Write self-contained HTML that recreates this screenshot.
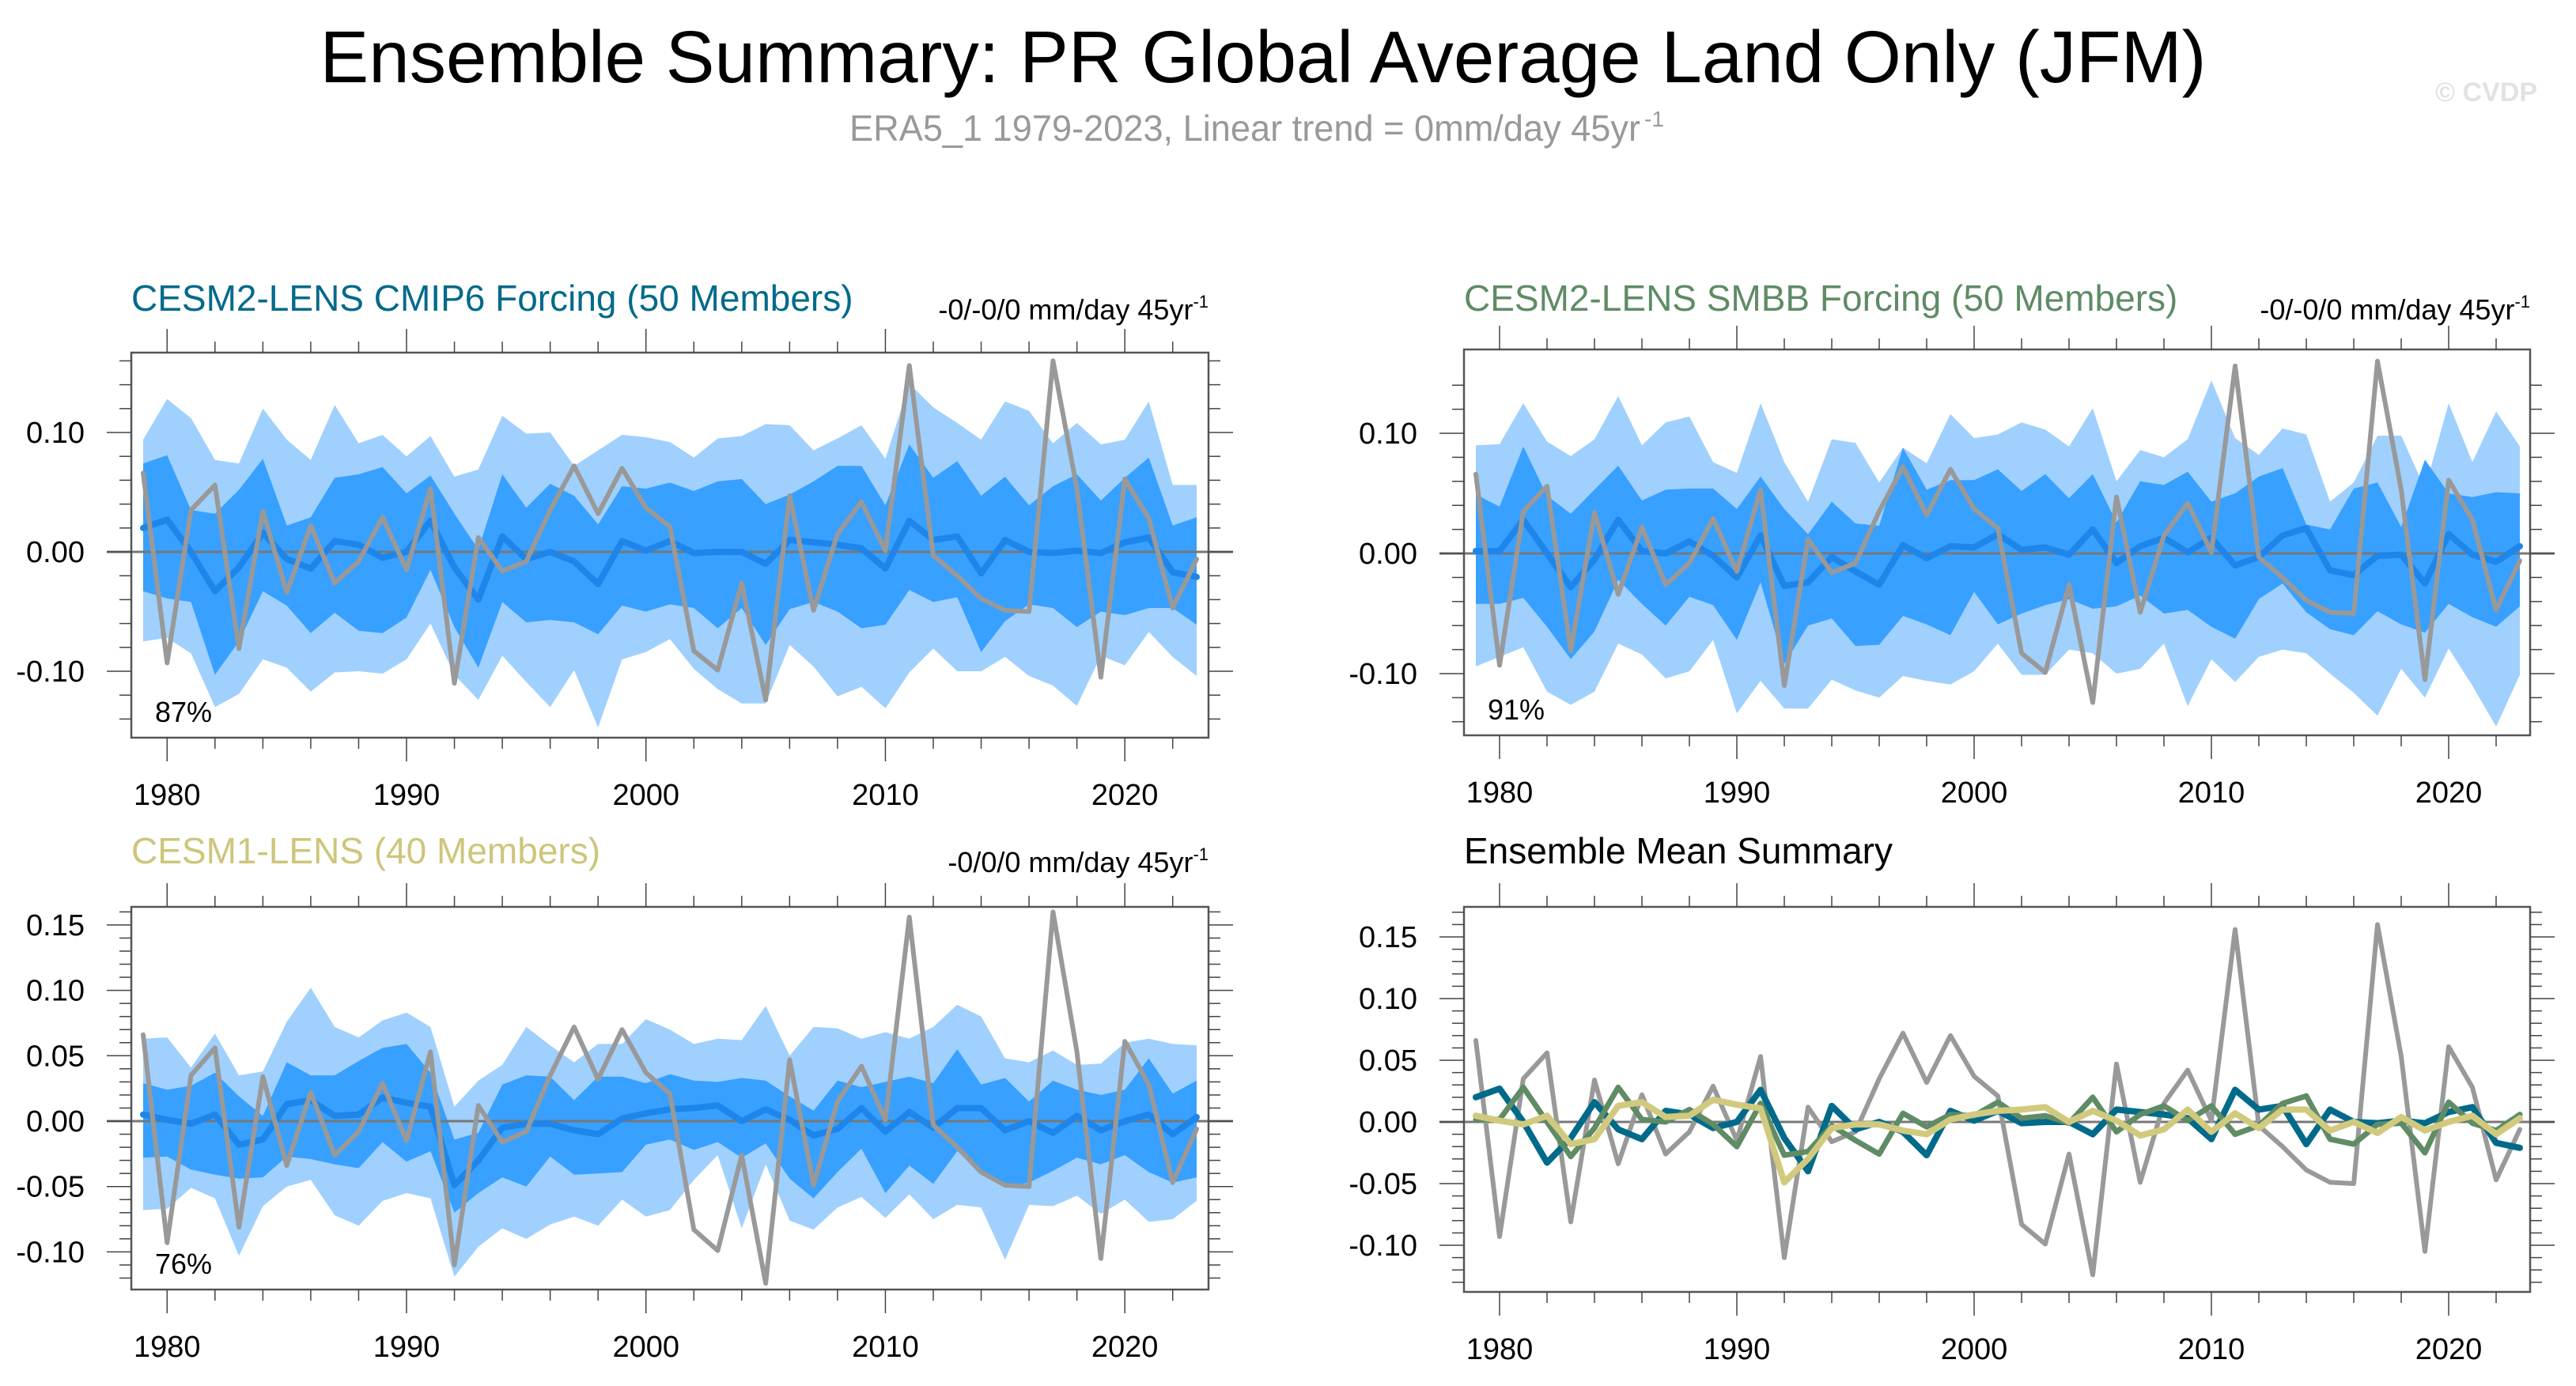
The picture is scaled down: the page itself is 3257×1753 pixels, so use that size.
<!DOCTYPE html>
<html><head><meta charset="utf-8"><style>
html,body{margin:0;padding:0;background:#fff;}
svg{display:block;font-family:"Liberation Sans",Arial,sans-serif;}
</style></head><body>
<svg id="chart" xmlns="http://www.w3.org/2000/svg" width="3257" height="1753" viewBox="0 0 3257 1753">
<rect x="0" y="0" width="3257" height="1753" fill="#fff"/>
<text x="1597" y="104" font-size="93" text-anchor="middle" fill="#000" textLength="2385" lengthAdjust="spacingAndGlyphs">Ensemble Summary: PR Global Average Land Only (JFM)</text>
<text x="1074" y="178" font-size="46" fill="#999" textLength="1000" lengthAdjust="spacingAndGlyphs">ERA5_1 1979-2023, Linear trend = 0mm/day 45yr</text>
<text x="2079" y="160" font-size="28" fill="#999">-1</text>
<text x="3208" y="128" font-size="34" font-weight="bold" text-anchor="end" fill="#e2e2e2">© CVDP</text>
<g id="panels"></g>
</svg>
<script>
const years = [];
for (let y = 1979; y <= 2023; y++) years.push(y);

const obs = [0.066,-0.093,0.035,0.056,-0.081,0.034,-0.034,0.022,-0.026,-0.008,0.029,-0.015,0.053,-0.110,0.012,-0.016,-0.008,0.035,0.072,0.032,0.070,0.037,0.021,-0.083,-0.099,-0.026,-0.124,0.047,-0.049,0.015,0.042,0.001,0.156,-0.003,-0.020,-0.039,-0.049,-0.050,0.160,0.053,-0.105,0.061,0.028,-0.047,-0.006];

const cmip6Mean = [0.020,0.027,0.000,-0.033,-0.013,0.016,-0.006,-0.014,0.009,0.006,-0.005,0.000,0.026,-0.013,-0.040,0.013,-0.006,0.000,-0.008,-0.027,0.009,0.001,0.009,-0.001,0.000,0.000,-0.010,0.010,0.008,0.006,0.003,-0.014,0.026,0.010,0.013,-0.018,0.010,0.000,-0.001,0.001,-0.001,0.008,0.012,-0.017,-0.021];
const cmip6Hi90 = [0.094,0.128,0.112,0.077,0.074,0.120,0.094,0.077,0.123,0.091,0.098,0.080,0.097,0.063,0.069,0.114,0.099,0.100,0.072,0.085,0.098,0.096,0.092,0.079,0.095,0.097,0.107,0.106,0.085,0.095,0.106,0.078,0.141,0.121,0.108,0.094,0.126,0.118,0.091,0.108,0.090,0.094,0.126,0.056,0.056];
const cmip6Hi66 = [0.074,0.081,0.035,0.032,0.052,0.078,0.022,0.029,0.062,0.065,0.071,0.049,0.064,0.032,0.002,0.065,0.037,0.057,0.047,0.023,0.055,0.053,0.058,0.051,0.059,0.061,0.040,0.048,0.059,0.072,0.072,0.039,0.090,0.062,0.076,0.047,0.063,0.039,0.055,0.065,0.043,0.062,0.079,0.022,0.029];
const cmip6Lo66 = [-0.033,-0.039,-0.042,-0.103,-0.075,-0.033,-0.045,-0.068,-0.051,-0.066,-0.068,-0.055,-0.015,-0.063,-0.097,-0.042,-0.059,-0.057,-0.059,-0.069,-0.045,-0.050,-0.044,-0.047,-0.064,-0.047,-0.078,-0.048,-0.042,-0.050,-0.064,-0.061,-0.032,-0.042,-0.038,-0.084,-0.058,-0.044,-0.047,-0.063,-0.050,-0.053,-0.047,-0.047,-0.061];
const cmip6Lo90 = [-0.075,-0.072,-0.085,-0.130,-0.119,-0.090,-0.097,-0.117,-0.101,-0.100,-0.102,-0.090,-0.060,-0.103,-0.124,-0.087,-0.109,-0.130,-0.099,-0.147,-0.090,-0.084,-0.073,-0.098,-0.115,-0.127,-0.127,-0.078,-0.096,-0.121,-0.113,-0.131,-0.101,-0.081,-0.100,-0.100,-0.088,-0.104,-0.112,-0.129,-0.087,-0.095,-0.067,-0.088,-0.104];

const smbbMean = [0.002,0.002,0.028,0.000,-0.028,-0.005,0.028,0.002,0.000,0.010,-0.002,-0.020,0.015,-0.027,-0.024,-0.003,-0.015,-0.026,0.007,-0.004,0.006,0.005,0.016,0.003,0.005,-0.001,0.020,-0.008,0.006,0.013,0.001,0.013,-0.010,-0.003,0.015,0.021,-0.014,-0.018,-0.002,-0.001,-0.025,0.016,-0.001,-0.007,0.006];
const smbbHi90 = [0.090,0.091,0.125,0.093,0.081,0.095,0.131,0.090,0.109,0.114,0.076,0.067,0.125,0.076,0.043,0.095,0.092,0.059,0.088,0.075,0.116,0.096,0.099,0.109,0.103,0.089,0.121,0.060,0.086,0.080,0.095,0.144,0.096,0.082,0.104,0.099,0.043,0.059,0.098,0.098,0.054,0.125,0.076,0.118,0.089];
const smbbHi66 = [0.049,0.039,0.089,0.048,0.033,0.053,0.073,0.044,0.053,0.054,0.054,0.037,0.064,0.037,0.016,0.043,0.025,0.023,0.088,0.053,0.061,0.061,0.070,0.052,0.066,0.046,0.066,0.026,0.060,0.057,0.068,0.043,0.050,0.064,0.071,0.024,0.020,0.054,0.059,0.022,0.078,0.050,0.047,0.051,0.050];
const smbbLo66 = [-0.042,-0.042,-0.037,-0.061,-0.088,-0.065,-0.022,-0.042,-0.060,-0.036,-0.043,-0.072,-0.024,-0.092,-0.060,-0.054,-0.077,-0.076,-0.052,-0.059,-0.068,-0.032,-0.059,-0.050,-0.043,-0.038,-0.046,-0.044,-0.035,-0.050,-0.047,-0.061,-0.071,-0.038,-0.025,-0.049,-0.063,-0.068,-0.048,-0.059,-0.066,-0.042,-0.053,-0.061,-0.044];
const smbbLo90 = [-0.094,-0.086,-0.078,-0.115,-0.126,-0.115,-0.075,-0.084,-0.104,-0.098,-0.072,-0.133,-0.106,-0.129,-0.129,-0.105,-0.114,-0.120,-0.102,-0.106,-0.109,-0.098,-0.075,-0.101,-0.101,-0.080,-0.083,-0.100,-0.096,-0.075,-0.127,-0.088,-0.107,-0.086,-0.080,-0.083,-0.100,-0.116,-0.135,-0.096,-0.120,-0.079,-0.110,-0.144,-0.101];

const cesm1Mean = [0.005,0.001,-0.002,0.005,-0.018,-0.014,0.013,0.016,0.004,0.005,0.018,0.014,0.011,-0.049,-0.030,-0.005,-0.002,-0.002,-0.007,-0.010,0.002,0.006,0.009,0.010,0.012,0.000,0.009,0.001,-0.011,-0.006,0.010,-0.008,0.007,-0.005,0.010,0.010,-0.007,0.000,-0.009,0.004,-0.007,0.000,0.005,-0.010,0.003];
const cesm1Hi90 = [0.063,0.064,0.041,0.067,0.035,0.038,0.076,0.102,0.072,0.064,0.077,0.083,0.072,0.011,0.031,0.043,0.072,0.058,0.045,0.059,0.059,0.078,0.070,0.059,0.063,0.062,0.088,0.050,0.072,0.071,0.063,0.068,0.063,0.072,0.089,0.080,0.048,0.045,0.054,0.043,0.044,0.060,0.063,0.059,0.058];
const cesm1Hi66 = [0.029,0.024,0.027,0.037,0.019,0.004,0.045,0.035,0.035,0.046,0.056,0.059,0.037,-0.014,-0.009,0.028,0.035,0.034,0.016,0.034,0.034,0.029,0.036,0.031,0.030,0.033,0.031,0.019,0.008,0.031,0.026,0.030,0.034,0.029,0.055,0.028,0.033,0.015,0.031,0.024,0.020,0.024,0.048,0.021,0.031];
const cesm1Lo66 = [-0.028,-0.027,-0.037,-0.041,-0.044,-0.043,-0.027,-0.029,-0.033,-0.036,-0.016,-0.031,-0.023,-0.070,-0.055,-0.043,-0.050,-0.027,-0.041,-0.040,-0.039,-0.018,-0.014,-0.022,-0.016,-0.028,-0.017,-0.044,-0.059,-0.039,-0.021,-0.055,-0.034,-0.048,-0.023,-0.039,-0.051,-0.047,-0.038,-0.028,-0.033,-0.026,-0.039,-0.047,-0.043];
const cesm1Lo90 = [-0.068,-0.067,-0.051,-0.059,-0.103,-0.065,-0.050,-0.045,-0.072,-0.080,-0.061,-0.055,-0.059,-0.119,-0.096,-0.082,-0.090,-0.079,-0.073,-0.080,-0.060,-0.073,-0.068,-0.045,-0.026,-0.082,-0.033,-0.076,-0.083,-0.066,-0.058,-0.074,-0.056,-0.075,-0.064,-0.066,-0.106,-0.064,-0.065,-0.057,-0.071,-0.060,-0.077,-0.075,-0.061];

const xTickLabels = ["1980","1990","2000","2010","2020"];
const yTicksA = [-0.10, 0.00, 0.10];
const yTickLabelsA = ["-0.10","0.00","0.10"];
const yTicksB = [-0.10,-0.05,0.00,0.05,0.10,0.15];
const yTickLabelsB = ["-0.10","-0.05","0.00","0.05","0.10","0.15"];

const NS = "http://www.w3.org/2000/svg";
const root = document.getElementById("panels");
function mk(tag, attrs, parent) {
  const e = document.createElementNS(NS, tag);
  for (const k in attrs) e.setAttribute(k, attrs[k]);
  (parent || root).appendChild(e);
  return e;
}

function panel(cfg) {
  const g = mk("g", {});
  
  
  const X = y => cfg.xa + (y - 1979) * (cfg.xb - cfg.xa) / 44;
  const Y = v => cfg.yz - v * cfg.ppu;
  const t = mk("text", {x: cfg.x0, y: cfg.ty, "font-size": 46, fill: cfg.titleColor}, g);
  t.textContent = cfg.title;
  
  
  if (cfg.trend) {
    const tr = mk("text", {x: cfg.x1, y: cfg.ty + 11, "font-size": 36, "text-anchor": "end", fill: "#000"}, g);
    tr.textContent = cfg.trend;
    const sp = mk("tspan", {"font-size": 22, dy: -15}, tr);
    sp.textContent = "-1";
    
    
  }
  function band(hi, lo, color, nm) {
    let d = "";
    years.forEach((yr, i) => { d += (i ? "L" : "M") + X(yr).toFixed(1) + "," + Y(hi[i]).toFixed(1); });
    for (let i = years.length - 1; i >= 0; i--) d += "L" + X(years[i]).toFixed(1) + "," + Y(lo[i]).toFixed(1);
    const p = mk("path", {d: d + "Z", fill: color}, g);
    
    
  }
  if (cfg.bands) {
    band(cfg.bands[0], cfg.bands[3], "#a0d0fd", "range-90-band");
    band(cfg.bands[1], cfg.bands[2], "#38a0ff", "range-66-band");
  }
  const zl = mk("line", {x1: cfg.x0 - 31, x2: cfg.x1 + 31, y1: Y(0), y2: Y(0), stroke: "#777", "stroke-width": 3}, g);
  
  
  function line(vals, color, w, nm) {
    const pts = years.map((yr, i) => X(yr).toFixed(1) + "," + Y(vals[i]).toFixed(1)).join(" ");
    const p = mk("polyline", {points: pts, fill: "none", stroke: color, "stroke-width": w, "stroke-linejoin": "round", "stroke-linecap": "round"}, g);
    
    
  }
  cfg.lines.forEach(l => line(l[0], l[1], l[2], l[3]));
  const fr = mk("rect", {x: cfg.x0, y: cfg.y0, width: cfg.x1 - cfg.x0, height: cfg.y1 - cfg.y0, fill: "none", stroke: "#555", "stroke-width": 2.5}, g);
  
  
  for (let yr = 1980; yr <= 2022; yr += 2) {
    const major = yr % 10 === 0;
    const L = major ? 30 : 14;
    mk("line", {x1: X(yr), x2: X(yr), y1: cfg.y0, y2: cfg.y0 - L, stroke: "#444", "stroke-width": 1.5}, g);
    mk("line", {x1: X(yr), x2: X(yr), y1: cfg.y1, y2: cfg.y1 + L, stroke: "#444", "stroke-width": 1.5}, g);
  }
  xTickLabels.forEach(lb => {
    const tx = mk("text", {x: X(+lb), y: cfg.y1 + 85, "font-size": 38, "text-anchor": "middle", fill: "#000"}, g);
    tx.textContent = lb;
    
    
  });
  for (let k = Math.ceil(cfg.ymin / cfg.minor); k * cfg.minor <= cfg.ymax; k++) {
    const v = k * cfg.minor;
    const yy = Y(v);
    if (yy < cfg.y0 - 1 || yy > cfg.y1 + 1) continue;
    const major = cfg.yTicks.some(t => Math.abs(t - v) < 1e-6);
    const L = major ? 31 : 15;
    mk("line", {x1: cfg.x0, x2: cfg.x0 - L, y1: yy, y2: yy, stroke: "#444", "stroke-width": 1.5}, g);
    mk("line", {x1: cfg.x1, x2: cfg.x1 + L, y1: yy, y2: yy, stroke: "#444", "stroke-width": 1.5}, g);
  }
  cfg.yTicks.forEach((v, i) => {
    const ty = mk("text", {x: cfg.x0 - 59, y: Y(v) + 13, "font-size": 38, "text-anchor": "end", fill: "#000"}, g);
    ty.textContent = cfg.yLabels[i];
    
    
  });
  if (cfg.pct) {
    const pc = mk("text", {x: cfg.x0 + 30, y: cfg.y1 - 20, "font-size": 36, fill: "#000"}, g);
    pc.textContent = cfg.pct;
    
    
  }
}

const OBS = "#999999", MEAN = "#1e86ea";
panel({name: "panel-cesm2-cmip6", x0: 166, x1: 1528, y0: 446, y1: 933, xa: 181, xb: 1513, yz: 698, ppu: 1510, ty: 393,
  ymin: -0.156, ymax: 0.167, minor: 0.02, yTicks: yTicksA, yLabels: yTickLabelsA,
  title: "CESM2-LENS CMIP6 Forcing (50 Members)", titleColor: "#006a8a", trend: "-0/-0/0 mm/day 45yr", pct: "87%",
  bands: [cmip6Hi90, cmip6Hi66, cmip6Lo66, cmip6Lo90],
  lines: [[cmip6Mean, MEAN, 8, "ensemble-mean-line"], [obs, OBS, 6, "observed-line"]]});
panel({name: "panel-cesm2-smbb", x0: 1851, x1: 3199, y0: 442, y1: 930, xa: 1866, xb: 3186, yz: 700, ppu: 1520, ty: 393,
  ymin: -0.151, ymax: 0.158, minor: 0.02, yTicks: yTicksA, yLabels: yTickLabelsA,
  title: "CESM2-LENS SMBB Forcing (50 Members)", titleColor: "#5f8b65", trend: "-0/-0/0 mm/day 45yr", pct: "91%",
  bands: [smbbHi90, smbbHi66, smbbLo66, smbbLo90],
  lines: [[smbbMean, MEAN, 8, "ensemble-mean-line"], [obs, OBS, 6, "observed-line"]]});
panel({name: "panel-cesm1", x0: 166, x1: 1528, y0: 1147, y1: 1631, xa: 181, xb: 1513, yz: 1418, ppu: 1654, ty: 1092,
  ymin: -0.129, ymax: 0.164, minor: 0.01, yTicks: yTicksB, yLabels: yTickLabelsB,
  title: "CESM1-LENS (40 Members)", titleColor: "#cdc67a", trend: "-0/0/0 mm/day 45yr", pct: "76%",
  bands: [cesm1Hi90, cesm1Hi66, cesm1Lo66, cesm1Lo90],
  lines: [[cesm1Mean, MEAN, 8, "ensemble-mean-line"], [obs, OBS, 6, "observed-line"]]});
panel({name: "panel-ensemble-mean-summary", x0: 1851, x1: 3199, y0: 1147, y1: 1634, xa: 1866, xb: 3186, yz: 1419, ppu: 1560, ty: 1092,
  ymin: -0.138, ymax: 0.174, minor: 0.01, yTicks: yTicksB, yLabels: yTickLabelsB,
  title: "Ensemble Mean Summary", titleColor: "#000", trend: null, pct: null, bands: null,
  lines: [[obs, OBS, 6, "observed-line"], [cmip6Mean, "#006a8a", 8, "cmip6-mean-line"], [smbbMean, "#5f8b65", 7, "smbb-mean-line"], [cesm1Mean, "#d1ca7e", 8, "cesm1-mean-line"]]});
</script>
</body></html>
